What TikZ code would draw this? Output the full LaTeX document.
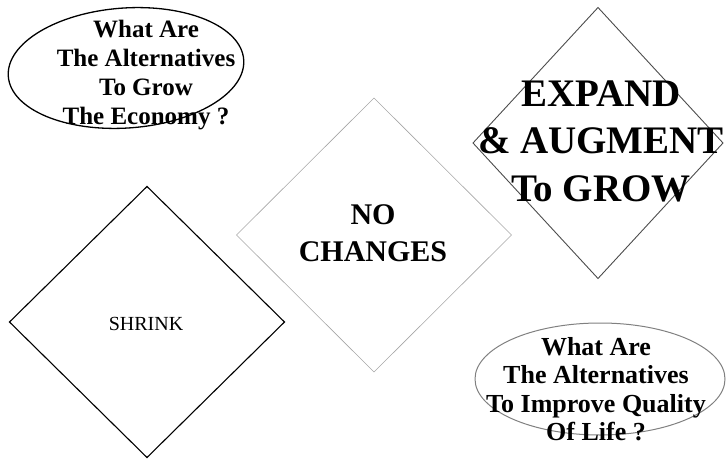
\documentclass[tikz,border=0pt]{standalone}
\usepackage{fontspec}
\setmainfont{Liberation Serif}
\usetikzlibrary{shapes.geometric}
\tikzset{
  shapebox/.style={inner sep=0pt, outer sep=0pt},
  dia/.style={shapebox, shape=diamond},
  ell/.style={shapebox, shape=ellipse},
  qtext/.style={align=center, inner sep=0pt, font=\fontsize{25}{28.8}\selectfont\bfseries},
}
\begin{document}
\begin{tikzpicture}[x=1pt, y=-1pt]
\useasboundingbox (0,0) rectangle (726,460);
% top-left ellipse
\node[ell, draw=black, line width=1.3pt, minimum width=236pt, minimum height=120pt, rotate=4] (e1) at (126,68) {};
\node[qtext] (t1) at (146,75) {What Are\\The Alternatives\\To Grow\\The Economy ?};
% middle diamond
\node[dia, draw=black!35, line width=0.6pt, minimum width=275pt, minimum height=274pt] (d2) at (374,235) {};
\node[align=center, inner sep=0pt, font=\fontsize{30}{37}\selectfont\bfseries] (t2) at (373,233) {NO\\CHANGES};
% right diamond
\node[dia, draw=black!70, line width=0.9pt, minimum width=250pt, minimum height=271pt] (d3) at (598,143) {};
\node[align=center, inner sep=0pt, font=\fontsize{39}{47.5}\selectfont\bfseries] (t3) at (601,141) {EXPAND\\\& AUGMENT\\To GROW};
% shrink diamond
\node[dia, draw=black, line width=1.1pt, minimum width=275pt, minimum height=271pt] (d4) at (147,322) {};
\node[inner sep=0pt, font=\fontsize{20}{24}\selectfont] (t4) at (146,324) {SHRINK};
% bottom-right ellipse
\node[ell, draw=black!50, line width=1pt, minimum width=250pt, minimum height=112pt] (e5) at (600,379) {};
\node[qtext, font=\fontsize{26}{28.5}\selectfont\bfseries] (t5) at (596,389) {What Are\\The Alternatives\\To Improve Quality\\Of Life ?};
\end{tikzpicture}
\end{document}
